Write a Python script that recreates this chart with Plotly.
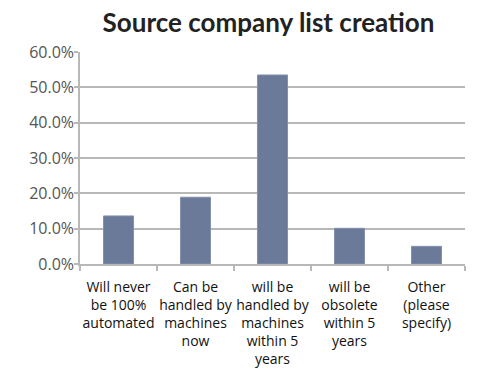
import plotly.graph_objects as go

categories = [
    "Will never<br>be 100%<br>automated",
    "Can be<br>handled by<br>machines<br>now",
    "will be<br>handled by<br>machines<br>within 5<br>years",
    "will be<br>obsolete<br>within 5<br>years",
    "Other<br>(please<br>specify)",
]
values = [0.136, 0.189, 0.535, 0.101, 0.050]
y_ticks = [0, 0.1, 0.2, 0.3, 0.4, 0.5, 0.6]
y_tick_labels = ["0.0%", "10.0%", "20.0%", "30.0%", "40.0%", "50.0%", "60.0%"]

fig = go.Figure(go.Bar(
    x=categories, y=values,
    marker=dict(color="#6b7a99", line=dict(color="#8391ad", width=1)),
    width=0.39,
))

fig.update_layout(
    width=501, height=371,
    margin=dict(l=72, r=44, t=44, b=115),
    paper_bgcolor="white", plot_bgcolor="white",
    showlegend=False,
    title=dict(text="<b>Source company list creation</b>", x=0.52, xanchor="center",
               y=0.985, yanchor="top",
               font=dict(family="Lato", size=26, color="#222222")),
    font=dict(family="Open Sans"),
)
fig.update_yaxes(
    range=[0, 0.6], tickvals=y_ticks, ticktext=y_tick_labels,
    showgrid=True, gridcolor="#b8b8b8", gridwidth=1.5,
    showline=True, linecolor="#b8b8b8", linewidth=1.5,
    ticks="outside", ticklen=4, tickcolor="#b8b8b8", tickwidth=1.5,
    tickfont=dict(family="Open Sans", size=16, color="#555555"),
    ticklabelstandoff=-3,
    zeroline=False,
    automargin=False,
)
fig.update_xaxes(
    showline=True, linecolor="#b8b8b8", linewidth=1.5,
    ticks="outside", ticklen=5, tickcolor="#b8b8b8", tickwidth=1.5,
    tickson="boundaries",
    tickfont=dict(family="Open Sans", size=14, color="#111111"),
    ticklabelstandoff=9,
    tickangle=0,
    automargin=False,
)

fig.write_html("out.html")
